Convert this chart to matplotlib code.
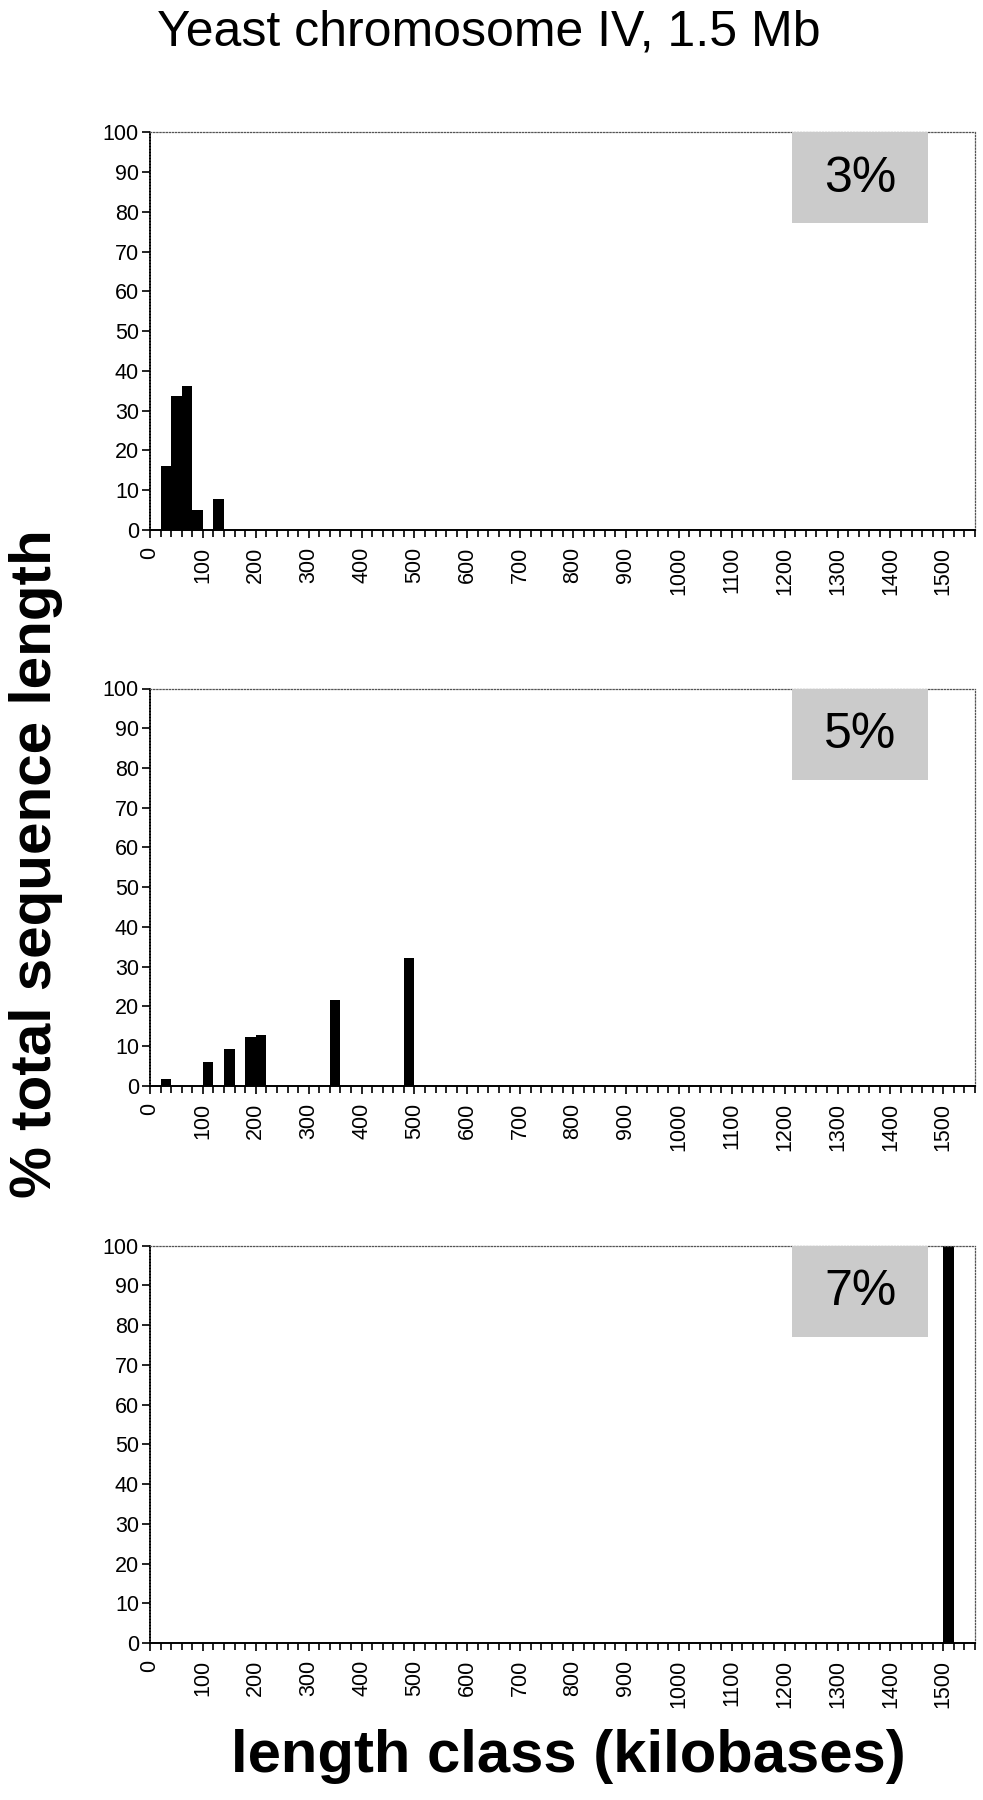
"""Yeast chromosome IV: % total sequence length per length class, three thresholds."""

import numpy as np
import matplotlib.pyplot as plt
from matplotlib.patches import Rectangle

plt.rcParams["font.family"] = ["Liberation Sans", "DejaVu Sans"]

bin_width = 20
thresholds = ["3%", "5%", "7%"]

# bin starts (kb) and % of total sequence length
bins_3 = [20, 40, 60, 80, 120]
pct_3 = [16.0, 33.8, 36.3, 5.0, 7.7]

bins_5 = [20, 100, 140, 180, 200, 340, 480]
pct_5 = [1.7, 6.0, 9.4, 12.4, 12.8, 21.7, 32.3]

bins_7 = [1500]
pct_7 = [100.0]

panels = [(bins_3, pct_3), (bins_5, pct_5), (bins_7, pct_7)]

fig = plt.figure(figsize=(9.83, 18.0), dpi=100)
bottoms = [0.7056, 0.3967, 0.0872]
left, width, height = 0.1526, 0.8393, 0.2208

for (starts, pct), label, bot in zip(panels, thresholds, bottoms):
    ax = fig.add_axes([left, bot, width, height])
    ax.bar(starts, pct, width=bin_width, align="edge", color="black", linewidth=0)
    ax.set_xlim(0, 1560)
    ax.set_ylim(0, 100)
    ax.set_yticks(np.arange(0, 101, 10))
    ax.set_xticks(np.arange(0, 1501, 100))
    ax.set_xticks(np.arange(0, 1561, 20), minor=True)
    ax.tick_params(axis="y", labelsize=15.5, length=6, width=1.2, direction="out", pad=2)
    ax.tick_params(axis="x", which="major", labelsize=15.5, labelrotation=90,
                   length=6, width=1.2, direction="out", pad=6)
    ax.tick_params(axis="x", which="minor", length=5, width=1.2, direction="out")
    for side in ("top", "right"):
        ax.spines[side].set_linestyle((0, (1, 1.5)))
        ax.spines[side].set_linewidth(0.9)
        ax.spines[side].set_color("#555555")
    ax.spines["left"].set_linestyle((0, (1, 0.8)))
    ax.spines["left"].set_linewidth(1.2)
    ax.spines["bottom"].set_linewidth(1.4)
    ax.add_patch(Rectangle((0.778, 0.771), 0.165, 0.229, transform=ax.transAxes,
                           facecolor="#cbcbcb", edgecolor="none", zorder=3))
    ax.text(0.861, 0.882, label, transform=ax.transAxes, ha="center", va="center",
            fontsize=36, zorder=4)

fig.text(0.497, 0.995, "Yeast chromosome IV, 1.5 Mb", ha="center", va="top",
         fontsize=36)
fig.text(0.037, 0.52, "% total sequence length", rotation=90, ha="center",
         va="center", fontsize=42, fontweight="bold")
fig.text(0.578, 0.024, "length class (kilobases)", ha="center", va="center",
         fontsize=43, fontweight="bold")

fig.savefig("out.png", dpi=100)
